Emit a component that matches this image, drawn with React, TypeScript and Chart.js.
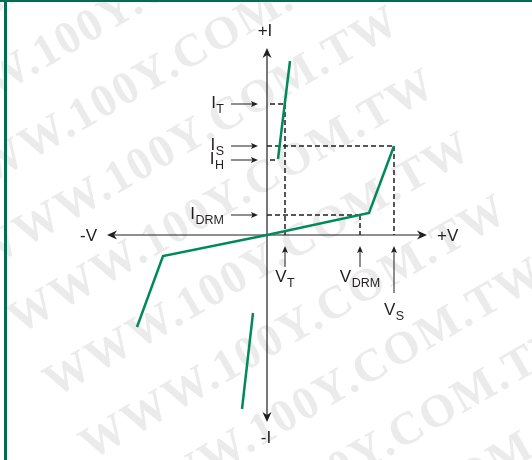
import React, { useEffect, useRef } from "react";
import { Chart, registerables } from "chart.js";

Chart.register(...registerables);

// ---- Data (arbitrary V / I units) ----
const FORWARD_V = [0, 10.2, 12.7];
const FORWARD_I = [0, 2.2, 8.9];
const ON_STATE_V = [1.1, 2.3];
const ON_STATE_I = [7.6, 17.4];
const REVERSE_V = [0, -10.4, -13.0];
const REVERSE_I = [0, -2.1, -9.2];
const REVERSE_ON_V = [-1.4, -2.5];
const REVERSE_ON_I = [-7.8, -17.4];

const I_MARK_NAMES = ["T", "S", "H", "DRM"];
const I_MARK_VALUES = [13.1, 8.9, 7.5, 2.0];
const V_MARK_NAMES = ["T", "DRM", "S"];
const V_MARK_VALUES = [1.8, 9.3, 12.7];

const V_AXIS_EXTENT = 16.0;
const I_AXIS_EXTENT = 18.7;
const X_RANGE = [-26.7, 26.5];
const Y_RANGE = [-22.5, 23.5];

const GREEN = "#00895a";
const BORDER_GREEN = "#006f50";
const INK = "#231f20";

function pts(xs: number[], ys: number[]) {
  return xs.map((x, i) => ({ x, y: ys[i] }));
}

function arrowHead(
  ctx: CanvasRenderingContext2D,
  tx: number,
  ty: number,
  dx: number,
  dy: number,
  len: number,
  halfW: number,
  notch: number
) {
  const px = -dy;
  const py = dx;
  ctx.beginPath();
  ctx.moveTo(tx, ty);
  ctx.lineTo(tx - dx * len + px * halfW, ty - dy * len + py * halfW);
  ctx.lineTo(tx - dx * (len - notch), ty - dy * (len - notch));
  ctx.lineTo(tx - dx * len - px * halfW, ty - dy * len - py * halfW);
  ctx.closePath();
  ctx.fill();
}

const MAIN_FONT = '17px "Liberation Sans", Arial, Helvetica, sans-serif';
const SUB_FONT = '12.5px "Liberation Sans", Arial, Helvetica, sans-serif';

function subText(
  ctx: CanvasRenderingContext2D,
  main: string,
  sub: string,
  x: number,
  baseline: number,
  align: "left" | "right" | "center"
) {
  ctx.font = MAIN_FONT;
  const wm = ctx.measureText(main).width;
  ctx.font = SUB_FONT;
  const ws = ctx.measureText(sub).width;
  const total = wm + ws + 0.5;
  let x0 = x;
  if (align === "right") x0 = x - total;
  if (align === "center") x0 = x - total / 2;
  ctx.textAlign = "left";
  ctx.textBaseline = "alphabetic";
  ctx.font = MAIN_FONT;
  ctx.fillText(main, x0, baseline);
  ctx.font = SUB_FONT;
  ctx.fillText(sub, x0 + wm + 0.5, baseline + 5);
}

export default function App() {
  const ref = useRef<HTMLCanvasElement>(null);

  useEffect(() => {
    document.body.style.margin = "0";
    const canvas = ref.current!;

    const curve = (xs: number[], ys: number[]) => ({
      data: pts(xs, ys),
      borderColor: GREEN,
      backgroundColor: GREEN,
      borderWidth: 2.5,
      pointRadius: 0,
      showLine: true,
      fill: false,
      tension: 0,
      order: 0,
    });
    const dashed = (xs: number[], ys: number[], offset = 0) => ({
      data: pts(xs, ys),
      borderColor: INK,
      backgroundColor: INK,
      borderWidth: 1.5,
      borderDash: [5, 3],
      borderDashOffset: offset,
      pointRadius: 0,
      showLine: true,
      fill: false,
      tension: 0,
      order: 1,
    });

    const [iT, iS, iH, iDRM] = I_MARK_VALUES;
    const [vT, vDRM, vS] = V_MARK_VALUES;

    const deco = {
      id: "deco",
      beforeDraw(chart: any) {
        const ctx: CanvasRenderingContext2D = chart.ctx;
        const w = chart.width;
        const h = chart.height;
        ctx.save();
        ctx.fillStyle = "#ffffff";
        ctx.fillRect(0, 0, w, h);
        // watermark
        ctx.font = 'bold 46px "Liberation Serif", "DejaVu Serif", serif';
        (ctx as any).letterSpacing = "2px";
        ctx.fillStyle = "#ebebeb";
        ctx.textAlign = "right";
        ctx.textBaseline = "alphabetic";
        for (let k = -6; k <= 3; k++) {
          ctx.save();
          ctx.translate(511 + 36 * k, 218 + 63 * k);
          ctx.rotate((-30 * Math.PI) / 180);
          ctx.fillText("WWW.100Y.COM.TW", 0, 0);
          ctx.restore();
        }
        (ctx as any).letterSpacing = "0px";
        // frame
        ctx.fillStyle = BORDER_GREEN;
        ctx.fillRect(0, 0, w, 2);
        ctx.fillRect(4, 0, 3, h);
        ctx.restore();
      },
      beforeDatasetsDraw(chart: any) {
        const ctx: CanvasRenderingContext2D = chart.ctx;
        const xs = chart.scales.x;
        const ys = chart.scales.y;
        const ox = xs.getPixelForValue(0);
        const oy = ys.getPixelForValue(0);
        const xl = xs.getPixelForValue(-V_AXIS_EXTENT);
        const xr = xs.getPixelForValue(V_AXIS_EXTENT);
        const yt = ys.getPixelForValue(I_AXIS_EXTENT);
        const yb = ys.getPixelForValue(-I_AXIS_EXTENT);
        ctx.save();
        ctx.strokeStyle = INK;
        ctx.fillStyle = INK;
        ctx.lineWidth = 1.2;
        ctx.beginPath();
        ctx.moveTo(xl + 4, oy);
        ctx.lineTo(xr - 4, oy);
        ctx.moveTo(ox, yt + 4);
        ctx.lineTo(ox, yb - 4);
        ctx.stroke();
        arrowHead(ctx, xl, oy, -1, 0, 10, 4.5, 3);
        arrowHead(ctx, xr, oy, 1, 0, 10, 4.5, 3);
        arrowHead(ctx, ox, yt, 0, -1, 10, 4.5, 3);
        arrowHead(ctx, ox, yb, 0, 1, 10, 4.5, 3);
        ctx.restore();
      },
      afterDatasetsDraw(chart: any) {
        const ctx: CanvasRenderingContext2D = chart.ctx;
        const xs = chart.scales.x;
        const ys = chart.scales.y;
        const ox = xs.getPixelForValue(0);
        const oy = ys.getPixelForValue(0);
        const xl = xs.getPixelForValue(-V_AXIS_EXTENT);
        const xr = xs.getPixelForValue(V_AXIS_EXTENT);
        const yt = ys.getPixelForValue(I_AXIS_EXTENT);
        const yb = ys.getPixelForValue(-I_AXIS_EXTENT);
        ctx.save();
        ctx.fillStyle = INK;
        ctx.strokeStyle = INK;
        // axis labels
        ctx.font = MAIN_FONT;
        ctx.textBaseline = "alphabetic";
        ctx.textAlign = "center";
        ctx.fillText("+I", ox - 2, yt - 12);
        ctx.fillText("-I", ox - 1, yb + 21);
        ctx.textAlign = "right";
        ctx.fillText("-V", xl - 10, oy + 6);
        ctx.textAlign = "left";
        ctx.fillText("+V", xr + 10, oy + 6);

        // current marker arrows and labels
        ctx.lineWidth = 1;
        I_MARK_VALUES.forEach((v, i) => {
          const py = ys.getPixelForValue(v);
          ctx.beginPath();
          ctx.moveTo(ox - 36, py);
          ctx.lineTo(ox - 14, py);
          ctx.stroke();
          arrowHead(ctx, ox - 9, py, 1, 0, 7, 3, 1.5);
          subText(ctx, "I", I_MARK_NAMES[i], ox - 43, py + 4, "right");
        });

        // voltage marker arrows and labels
        const arrowBottom = [32, 32, 58];
        const labelBase = [47, 47, 80];
        V_MARK_VALUES.forEach((v, i) => {
          const px = xs.getPixelForValue(v);
          ctx.beginPath();
          ctx.moveTo(px, oy + arrowBottom[i]);
          ctx.lineTo(px, oy + 16);
          ctx.stroke();
          arrowHead(ctx, px, oy + 11, 0, -1, 7, 3, 1.5);
          subText(ctx, "V", V_MARK_NAMES[i], px, oy + labelBase[i], "center");
        });
        ctx.restore();
      },
    };

    const chart = new Chart(canvas, {
      type: "scatter",
      data: {
        datasets: [
          curve(FORWARD_V, FORWARD_I),
          curve(ON_STATE_V, ON_STATE_I),
          curve(REVERSE_V, REVERSE_I),
          curve(REVERSE_ON_V, REVERSE_ON_I),
          dashed([0, vT], [iT, iT], 5),
          dashed([vT, vT], [iT, 0]),
          dashed([0, vS], [iS, iS]),
          dashed([vS, vS], [iS, 0]),
          dashed([0, vDRM], [iDRM, iDRM]),
          dashed([vDRM, vDRM], [iDRM, 0]),
          dashed([0, ON_STATE_V[0]], [iH, iH], 5),
        ] as any,
      },
      options: {
        animation: false,
        responsive: false,
        devicePixelRatio: 1,
        layout: { padding: 0 },
        plugins: {
          legend: { display: false },
          tooltip: { enabled: false },
        },
        scales: {
          x: { type: "linear", min: X_RANGE[0], max: X_RANGE[1], display: false },
          y: { type: "linear", min: Y_RANGE[0], max: Y_RANGE[1], display: false },
        },
      },
      plugins: [deco],
    });

    return () => chart.destroy();
  }, []);

  return (
    <div style={{ position: "absolute", left: 0, top: 0, width: 532, height: 460, background: "#fff" }}>
      <canvas ref={ref} width={532} height={460} style={{ display: "block", width: 532, height: 460 }} />
    </div>
  );
}
